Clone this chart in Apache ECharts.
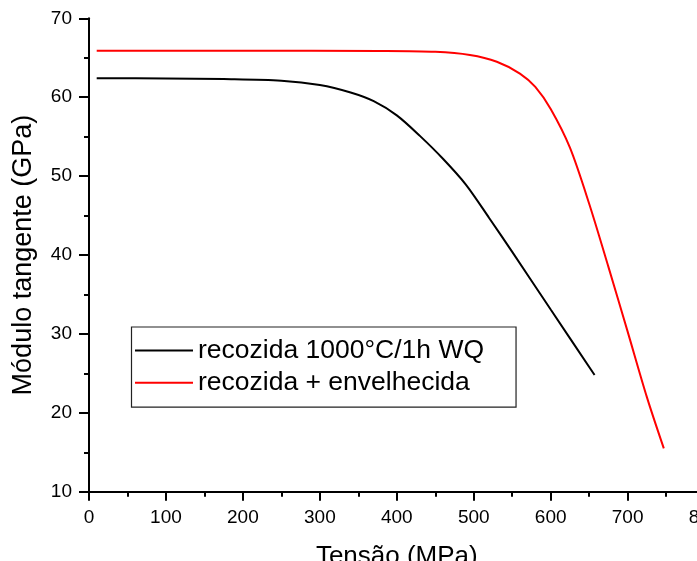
<!DOCTYPE html>
<html>
	<head>
		<meta charset="utf-8">
		<title></title>
	</head>
	<body style="margin:0;">
		<div id="container" style="width: 697px;height:561px;"></div>
	</body>
	<script src="https://cdn.jsdelivr.net/npm/echarts@6/dist/echarts.min.js"></script>
	<script type="text/javascript">
		'use strict'

		// recozida 1000°C/1h WQ
		var blackX = [10, 100, 175, 250, 300, 340, 370, 400, 430, 460, 490, 520, 550, 600, 657];
		var blackY = [62.4, 62.38, 62.3, 62.1, 61.55, 60.6, 59.5, 57.7, 55.1, 52.2, 48.9, 44.7, 40.4, 33.1, 24.8];
		// recozida + envelhecida
		var redX = [10, 200, 378, 450, 495, 530, 560, 580, 600, 625, 650, 675, 700, 725, 747];
		var redY = [65.9, 65.9, 65.86, 65.75, 65.35, 64.5, 63.0, 61.3, 58.5, 53.6, 46.5, 38.5, 30.3, 22.0, 15.5];
		var names = ['recozida 1000°C/1h WQ', 'recozida + envelhecida'];

		function pairs(xs, ys) {
			var out = [];
			for (var i = 0; i < xs.length; i++) {
				out.push([xs[i], ys[i]]);
			}
			return out;
		}

		var font = 'Liberation Sans, Arial, sans-serif';
		var axisLine = { lineStyle: { color: '#000', width: 2 } };

		var myCharts = echarts.init(document.getElementById('container'));
		var option = {
			animation: false,
			backgroundColor: '#fff',
			grid: {
				left: 89,
				top: 18.3,
				width: 615.6,
				bottom: 69.2,
				outerBoundsMode: 'none',
				containLabel: false
			},
			legend: {
				data: names,
				orient: 'vertical',
				left: 131.5,
				top: 327,
				icon: 'rect',
				itemWidth: 58,
				itemHeight: 2,
				itemGap: 5.2,
				padding: [10, 32, 11, 3.5],
				borderColor: '#222',
				borderWidth: 1.2,
				textStyle: { fontSize: 26.5, color: '#000', fontFamily: font }
			},
			xAxis: {
				type: 'value',
				min: 0,
				max: 800,
				interval: 100,
				name: 'Tensão (MPa)',
				nameLocation: 'middle',
				nameGap: 52,
				nameTextStyle: { fontSize: 26, color: '#000', fontFamily: font },
				axisLine: axisLine,
				axisTick: { show: true, inside: false, length: 9, lineStyle: { color: '#000', width: 2 } },
				minorTick: { show: true, splitNumber: 2, length: 5, lineStyle: { color: '#000', width: 2 } },
				axisLabel: { fontSize: 19, color: '#000', fontFamily: font, margin: 16 },
				splitLine: { show: false }
			},
			yAxis: {
				type: 'value',
				min: 10,
				max: 70,
				interval: 10,
				name: 'Módulo tangente (GPa)',
				nameLocation: 'middle',
				nameGap: 52,
				nameTextStyle: { fontSize: 27, color: '#000', fontFamily: font },
				axisLine: axisLine,
				axisTick: { show: true, inside: false, length: 10, lineStyle: { color: '#000', width: 2 } },
				minorTick: { show: true, splitNumber: 2, length: 5, lineStyle: { color: '#000', width: 2 } },
				axisLabel: { fontSize: 19, color: '#000', fontFamily: font, margin: 17 },
				splitLine: { show: false }
			},
			series: [{
					name: names[0],
					type: 'line',
					data: pairs(blackX, blackY),
					smooth: 0.3,
					symbol: 'none',
					lineStyle: { color: '#000', width: 2 },
					itemStyle: { color: '#000' }
				},
				{
					name: names[1],
					type: 'line',
					data: pairs(redX, redY),
					smooth: 0.3,
					symbol: 'none',
					lineStyle: { color: '#ff0000', width: 2 },
					itemStyle: { color: '#ff0000' }
				}
			]
		};
		myCharts.setOption(option);
	</script>
</html>
